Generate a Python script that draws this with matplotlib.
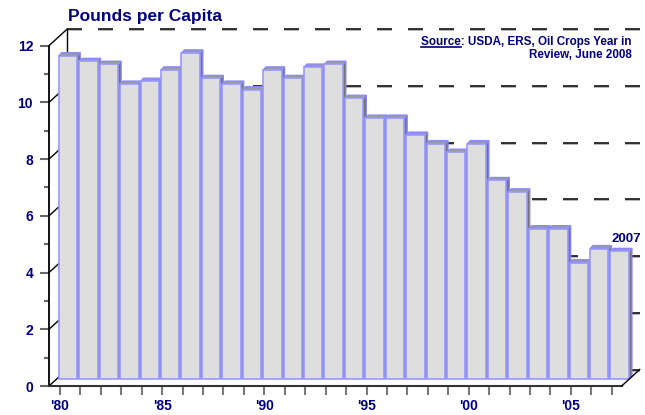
import matplotlib
matplotlib.use("Agg")
import matplotlib.pyplot as plt
import matplotlib.transforms as mtransforms
from matplotlib.patches import Rectangle, Polygon
from matplotlib.lines import Line2D

plt.rcParams['font.family'] = ['Liberation Sans', 'DejaVu Sans']
plt.rcParams['font.weight'] = 'bold'
plt.rcParams['lines.scale_dashes'] = False

# per capita consumption, pounds
years = list(range(1980, 2008))
pounds = [11.4, 11.2, 11.1, 10.4, 10.5, 10.9, 11.5, 10.6, 10.4, 10.2,
          10.9, 10.6, 11.0, 11.1, 9.9, 9.2, 9.2, 8.6, 8.3, 8.0,
          8.3, 7.0, 6.6, 5.3, 5.3, 4.1, 4.6, 4.5]
year_labels = {1980: "'80", 1985: "'85", 1990: "'90", 1995: "'95", 2000: "'00", 2005: "'05"}
y_major = [0, 2, 4, 6, 8, 10, 12]
y_minor = [1, 3, 5, 7, 9, 11]

NAVY = '#000080'
W, H = 645, 415

fig = plt.figure(figsize=(W / 100, H / 100), dpi=100)
ax = fig.add_axes([49 / W, 1 - 386 / H, (621.7 - 49) / W, (386 - 45.7) / H])
x0, x1 = -0.54, len(years) - 0.51
ax.set_xlim(x0, x1)
ax.set_ylim(0, 12)
for s in ax.spines.values():
    s.set_visible(False)

# pixel -> data deltas for the fake 3d depth
bbox = ax.get_window_extent()
ppx = bbox.width / (x1 - x0)
ppy = bbox.height / 12.0
def px(dx, dy):
    return dx / ppx, dy / ppy

bdx, bdy = px(18, 16.5)   # back wall
mdx, mdy = px(8, 7)       # bar plane
ddx, ddy = px(3, 3)       # bar depth

# back wall dashed gridlines
for v in y_major:
    ax.plot([x0 + bdx, x1 + bdx], [v + bdy - 1 / ppy, v + bdy - 1 / ppy], color='#aaaaaa',
            lw=1.2, dashes=(15 * 0.72, 16 * 0.72), clip_on=False, zorder=1)
    ax.plot([x0 + bdx, x1 + bdx], [v + bdy, v + bdy], color='#222222',
            lw=1.3, dashes=(15 * 0.72, 16 * 0.72), clip_on=False, zorder=1)

# left wall
for v in y_major:
    ax.plot([x0, x0 + bdx], [v, v + bdy], color='black', lw=1, clip_on=False, zorder=1)
ax.plot([x0 + bdx, x0 + bdx], [bdy, 12 + bdy], color='black', lw=1, clip_on=False, zorder=1)

# bars
w = 0.9
for i, v in enumerate(pounds):
    l = i - w / 2 + mdx
    r = i + w / 2 + mdx
    b = mdy
    t = v + mdy
    side = Polygon([(r, b), (r + ddx, b + ddy), (r + ddx, t + ddy), (r, t)],
                   closed=True, facecolor='#727272', edgecolor='#8585f0', lw=1,
                   clip_on=False, zorder=3)
    top = Polygon([(l, t), (r, t), (r + ddx, t + ddy), (l + ddx, t + ddy)],
                  closed=True, facecolor='#9a9a9a', edgecolor='#8a8aff', lw=1,
                  clip_on=False, zorder=3)
    front = Rectangle((l, b), w, v, facecolor='#dedede', edgecolor='#9898ff',
                      lw=1.2, clip_on=False, zorder=3)
    ax.add_patch(side)
    ax.add_patch(top)
    ax.add_patch(front)

# front axes / floor
ax.plot([x0, x0], [0, 12], color='black', lw=1.3, clip_on=False, zorder=5)
ax.plot([x0, x1], [0, 0], color='#333333', lw=1.5, clip_on=False, zorder=5)
ax.plot([x1, x1 + bdx], [0, bdy], color='black', lw=1, clip_on=False, zorder=5)

ax.set_yticks(y_major)
ax.set_yticks(y_minor, minor=True)
ax.set_yticklabels([str(v) for v in y_major])
ax.tick_params(axis='y', which='major', length=6.5, width=1.5, color='#666666',
               pad=5, labelsize=10, labelcolor=NAVY)
ax.tick_params(axis='y', which='minor', length=3.6, width=1.5, color='#666666')
ax.set_xticks(range(len(years)))
ax.set_xticklabels([year_labels.get(y, '') for y in years])
ax.tick_params(axis='x', length=6.5, width=1.5, color='#777777', pad=3,
               labelsize=10, labelcolor=NAVY)

ax.annotate(str(years[-1]), xy=(len(years) - 1 + mdx, pounds[-1] + mdy),
            xytext=(7, 12), textcoords='offset pixels', ha='center', va='center',
            fontsize=9.5, color=NAVY, annotation_clip=False)

fig.text(68 / W, 1 - 16 / H, "Pounds per Capita", fontsize=12.5, color=NAVY,
         ha='left', va='center')
t1 = fig.text(631.7 / W, 1 - 42 / H, "Source: USDA, ERS, Oil Crops Year in",
              fontsize=8.4, color=NAVY, ha='right', va='center')
fig.text(631.7 / W, 1 - 54.7 / H, "Review, June 2008",
         fontsize=8.4, color=NAVY, ha='right', va='center')

# underline "Source"
fig.canvas.draw()
rend = fig.canvas.get_renderer()
bb = t1.get_window_extent(rend)
tmp = fig.text(0, 0, "Source", fontsize=8.4)
sw = tmp.get_window_extent(rend).width
tmp.remove()
fig.add_artist(Line2D([bb.x0, bb.x0 + sw], [bb.y0 + 0.5, bb.y0 + 0.5], color=NAVY,
                      lw=1.2, transform=mtransforms.IdentityTransform()))

fig.savefig("out.png", dpi=100)
